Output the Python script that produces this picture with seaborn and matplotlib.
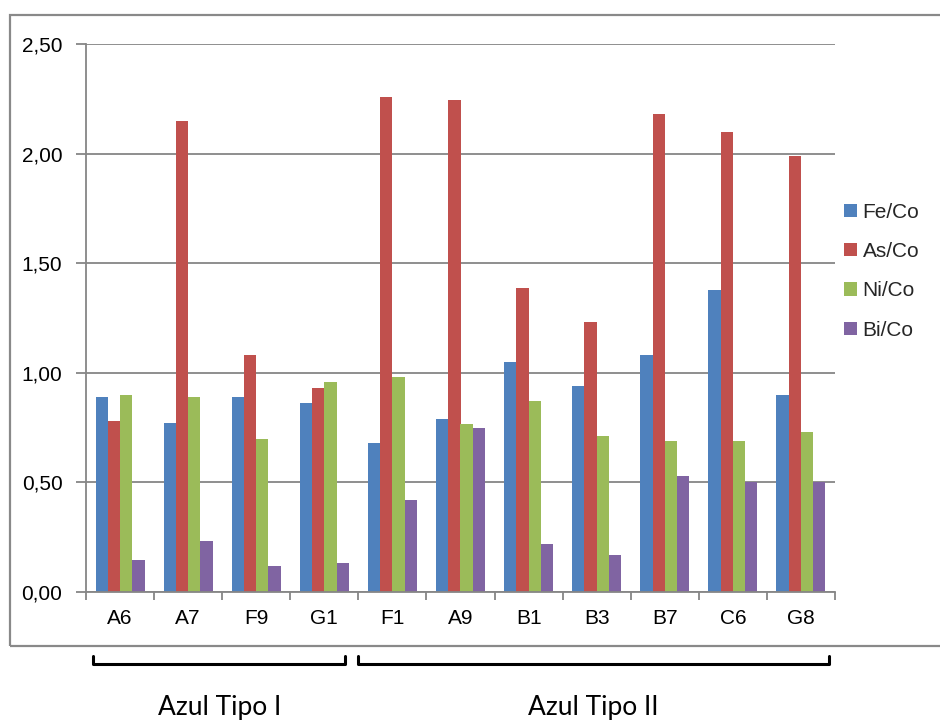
import matplotlib
matplotlib.use("Agg")
import matplotlib.pyplot as plt
from matplotlib.patches import Rectangle
from matplotlib.lines import Line2D
from matplotlib.ticker import FuncFormatter, FixedLocator
import numpy as np
import pandas as pd
import seaborn as sns

# Samples and element ratios
samples = ["A6", "A7", "F9", "G1", "F1", "A9", "B1", "B3", "B7", "C6", "G8"]
ratios = ["Fe/Co", "As/Co", "Ni/Co", "Bi/Co"]
fe_co = [0.89, 0.77, 0.89, 0.86, 0.68, 0.79, 1.05, 0.94, 1.08, 1.38, 0.90]
as_co = [0.78, 2.15, 1.08, 0.93, 2.26, 2.245, 1.385, 1.23, 2.18, 2.10, 1.99]
ni_co = [0.90, 0.89, 0.70, 0.96, 0.98, 0.765, 0.87, 0.71, 0.69, 0.69, 0.73]
bi_co = [0.145, 0.233, 0.117, 0.131, 0.42, 0.748, 0.218, 0.169, 0.529, 0.50, 0.50]
groups = ["Azul Tipo I", "Azul Tipo II"]
group_sizes = [4, 7]
yticks = [0.0, 0.5, 1.0, 1.5, 2.0, 2.5]

colors = ["#4F81BD", "#C0504D", "#9BBB59", "#8064A2"]
grid_gray = "#868686"

df = pd.DataFrame({
    "sample": samples * 4,
    "ratio": np.repeat(ratios, len(samples)),
    "value": fe_co + as_co + ni_co + bi_co,
})

sns.set_theme(style="white")
plt.rcParams["font.family"] = ["Liberation Sans", "DejaVu Sans"]

W, H = 940, 720
fig = plt.figure(figsize=(W / 100, H / 100), dpi=100)
ax = fig.add_axes([86 / W, 1 - 592 / H, (835 - 86) / W, (592 - 44) / H])

sns.barplot(data=df, x="sample", y="value", hue="ratio", order=samples,
            hue_order=ratios, palette=colors, saturation=1, width=0.72,
            gap=0, linewidth=0, ax=ax, legend=True)

ax.set_xlim(-0.5, len(samples) - 0.5)
ax.set_ylim(0, 2.5)
ax.set_xlabel("")
ax.set_ylabel("")

# y axis: comma decimal labels, outward ticks
ax.yaxis.set_major_locator(FixedLocator(yticks))
ax.yaxis.set_major_formatter(FuncFormatter(lambda v, p: f"{v:.2f}".replace(".", ",")))
ax.tick_params(axis="y", which="major", length=7, width=1.3, color=grid_gray,
               direction="out", labelsize=15, labelcolor="black", pad=10, left=True)

# x axis: labels at centres, tick marks between categories
ax.tick_params(axis="x", which="major", length=0, labelsize=15, labelcolor="black", pad=12)
ax.xaxis.set_minor_locator(FixedLocator(np.arange(-0.5, len(samples), 1.0)))
ax.tick_params(axis="x", which="minor", length=6, width=1.3, color=grid_gray,
               direction="out", bottom=True)

ax.yaxis.grid(True, color=grid_gray, linewidth=1.3)
ax.set_axisbelow(True)
for side in ["top", "right"]:
    ax.spines[side].set_visible(False)
for side in ["left", "bottom"]:
    ax.spines[side].set_color(grid_gray)
    ax.spines[side].set_linewidth(1.3)

handles, labels = ax.get_legend_handles_labels()
ax.get_legend().remove()
fig.legend(handles, labels, loc="upper left",
           bbox_to_anchor=(844 / W, 1 - 203 / H), bbox_transform=fig.transFigure,
           frameon=False, fontsize=15, handlelength=0.6, handleheight=0.6,
           handletextpad=0.3, labelspacing=0.97, borderpad=0, borderaxespad=0)

# chart frame
fig.patches.append(Rectangle((10 / W, 1 - 646 / H), W / W, (646 - 15) / H,
                             transform=fig.transFigure, fill=False,
                             edgecolor="#898989", linewidth=1.6, clip_on=False))

# group brackets under the category axis
step = (835 - 86) / len(samples)
start = 0
spans = []
for size in group_sizes:
    spans.append((86 + start * step, 86 + (start + size) * step))
    start += size
pads = [(7, -13), (0, -6)]
for (x0, x1), (p0, p1), name in zip(spans, pads, groups):
    xa, xb = x0 + p0, x1 + p1
    ytop, ybot = 656, 664
    xs = [xa, xa, xb, xb]
    ys = [ytop, ybot, ybot, ytop]
    fig.add_artist(Line2D([x / W for x in xs], [1 - y / H for y in ys],
                          transform=fig.transFigure, color="black",
                          linewidth=2.2, solid_joinstyle="round"))
    fig.text((xa + xb) / 2 / W, 1 - 707 / H, name, ha="center", va="center",
             fontsize=19, family=["Lato", "DejaVu Sans"], color="black")

fig.savefig("out.png", dpi=100)
